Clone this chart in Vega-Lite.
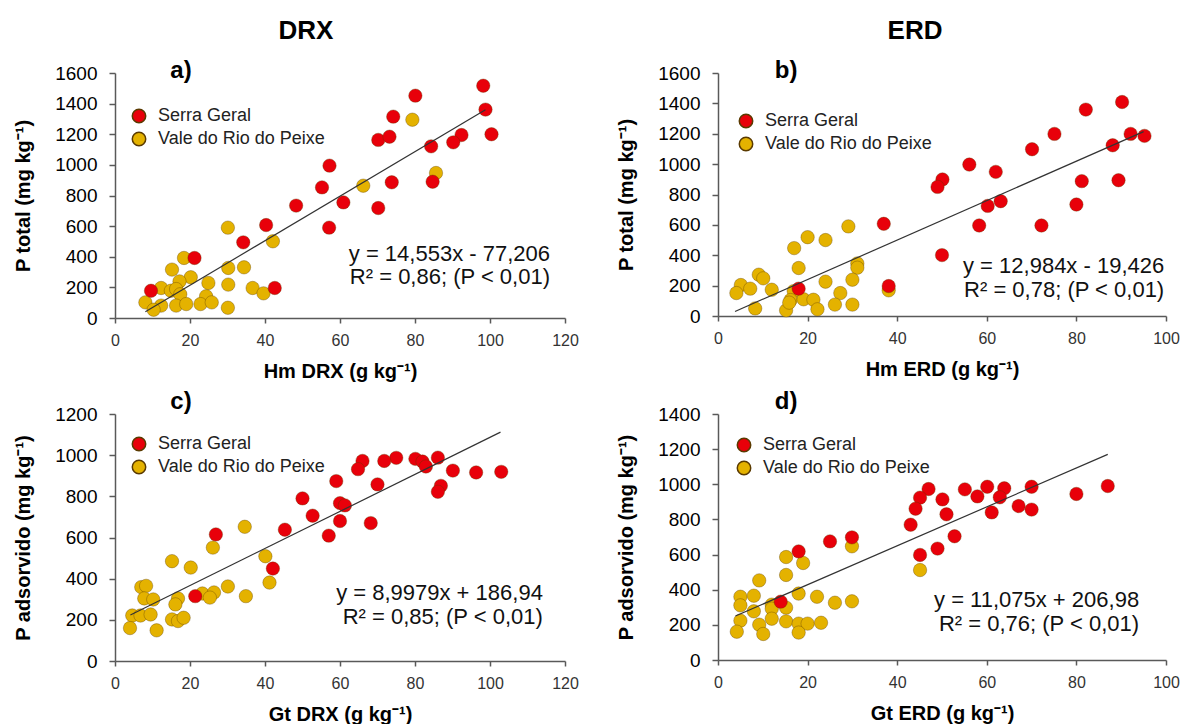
{
  "$schema": "https://vega.github.io/schema/vega-lite/v6.json",
  "background": "white",
  "padding": {"left": 13, "top": 18, "right": 5, "bottom": 0},
  "spacing": 9,
  "resolve": {"scale": {"color": "independent"}, "legend": {"color": "independent"}},
  "config": {
    "font": "Liberation Sans",
    "view": {"stroke": null},
    "axis": {"grid": false, "domainColor": "#595959", "tickColor": "#595959", "domainWidth": 1.5, "tickWidth": 1.5, "tickSize": 6, "titleFontSize": 20, "titleFontWeight": "bold", "titleColor": "#000", "labelFont": "Liberation Sans", "titleFont": "Liberation Sans", "labelFlush": false, "labelOverlap": false, "format": "d"},
    "axisX": {"labelFontSize": 16, "labelColor": "#333", "labelPadding": 9, "titlePadding": 13, "tickSize": 5},
    "axisY": {"labelFontSize": 19, "labelColor": "#000", "labelPadding": 12, "titlePadding": 21},
    "legend": {"labelFontSize": 18, "labelColor": "#222", "symbolSize": 180, "rowPadding": 3, "padding": 0, "labelOffset": 10, "symbolType": "circle", "labelFont": "Liberation Sans", "labelLimit": 400},
    "title": {"fontSize": 26, "fontWeight": "bold", "color": "#000", "anchor": "middle", "frame": "group", "font": "Liberation Sans"},
    "text": {"font": "Liberation Sans", "color": "#111"}
  },
  "datasets": {
    "a": [
      {"x": 79.3, "y": 1295, "s": "Vale do Rio do Peixe"}, {"x": 85.6, "y": 947, "s": "Vale do Rio do Peixe"}, {"x": 66.2, "y": 864, "s": "Vale do Rio do Peixe"}, {"x": 30.1, "y": 590, "s": "Vale do Rio do Peixe"}, {"x": 42.1, "y": 501, "s": "Vale do Rio do Peixe"}, {"x": 18.4, "y": 392, "s": "Vale do Rio do Peixe"}, {"x": 15.2, "y": 316, "s": "Vale do Rio do Peixe"}, {"x": 30.2, "y": 327, "s": "Vale do Rio do Peixe"}, {"x": 34.4, "y": 331, "s": "Vale do Rio do Peixe"}, {"x": 20.2, "y": 266, "s": "Vale do Rio do Peixe"}, {"x": 17.2, "y": 239, "s": "Vale do Rio do Peixe"}, {"x": 24.9, "y": 229, "s": "Vale do Rio do Peixe"}, {"x": 30.2, "y": 218, "s": "Vale do Rio do Peixe"}, {"x": 12.3, "y": 196, "s": "Vale do Rio do Peixe"}, {"x": 14.9, "y": 178, "s": "Vale do Rio do Peixe"}, {"x": 16.3, "y": 189, "s": "Vale do Rio do Peixe"}, {"x": 17.4, "y": 155, "s": "Vale do Rio do Peixe"}, {"x": 24.3, "y": 142, "s": "Vale do Rio do Peixe"}, {"x": 36.7, "y": 196, "s": "Vale do Rio do Peixe"}, {"x": 39.6, "y": 161, "s": "Vale do Rio do Peixe"}, {"x": 8.1, "y": 102, "s": "Vale do Rio do Peixe"}, {"x": 12.3, "y": 81, "s": "Vale do Rio do Peixe"}, {"x": 16.3, "y": 81, "s": "Vale do Rio do Peixe"}, {"x": 19.0, "y": 91, "s": "Vale do Rio do Peixe"}, {"x": 22.8, "y": 91, "s": "Vale do Rio do Peixe"}, {"x": 25.8, "y": 102, "s": "Vale do Rio do Peixe"}, {"x": 10.3, "y": 54, "s": "Vale do Rio do Peixe"}, {"x": 30.1, "y": 67, "s": "Vale do Rio do Peixe"},
      {"x": 98.2, "y": 1517, "s": "Serra Geral"}, {"x": 80.1, "y": 1452, "s": "Serra Geral"}, {"x": 74.2, "y": 1315, "s": "Serra Geral"}, {"x": 98.8, "y": 1361, "s": "Serra Geral"}, {"x": 70.2, "y": 1163, "s": "Serra Geral"}, {"x": 73.2, "y": 1184, "s": "Serra Geral"}, {"x": 92.4, "y": 1195, "s": "Serra Geral"}, {"x": 100.4, "y": 1200, "s": "Serra Geral"}, {"x": 90.2, "y": 1147, "s": "Serra Geral"}, {"x": 84.3, "y": 1121, "s": "Serra Geral"}, {"x": 57.2, "y": 995, "s": "Serra Geral"}, {"x": 55.2, "y": 853, "s": "Serra Geral"}, {"x": 73.8, "y": 886, "s": "Serra Geral"}, {"x": 84.7, "y": 890, "s": "Serra Geral"}, {"x": 60.9, "y": 755, "s": "Serra Geral"}, {"x": 70.2, "y": 718, "s": "Serra Geral"}, {"x": 48.3, "y": 734, "s": "Serra Geral"}, {"x": 57.1, "y": 590, "s": "Serra Geral"}, {"x": 40.3, "y": 607, "s": "Serra Geral"}, {"x": 34.2, "y": 494, "s": "Serra Geral"}, {"x": 21.2, "y": 392, "s": "Serra Geral"}, {"x": 42.6, "y": 196, "s": "Serra Geral"}, {"x": 9.6, "y": 178, "s": "Serra Geral"}
    ],
    "b": [
      {"x": 29.1, "y": 590, "s": "Vale do Rio do Peixe"}, {"x": 20.0, "y": 519, "s": "Vale do Rio do Peixe"}, {"x": 24.0, "y": 500, "s": "Vale do Rio do Peixe"}, {"x": 17.0, "y": 447, "s": "Vale do Rio do Peixe"}, {"x": 18.0, "y": 316, "s": "Vale do Rio do Peixe"}, {"x": 31.1, "y": 346, "s": "Vale do Rio do Peixe"}, {"x": 31.1, "y": 318, "s": "Vale do Rio do Peixe"}, {"x": 30.0, "y": 239, "s": "Vale do Rio do Peixe"}, {"x": 24.0, "y": 226, "s": "Vale do Rio do Peixe"}, {"x": 9.1, "y": 272, "s": "Vale do Rio do Peixe"}, {"x": 10.1, "y": 248, "s": "Vale do Rio do Peixe"}, {"x": 5.1, "y": 204, "s": "Vale do Rio do Peixe"}, {"x": 7.2, "y": 180, "s": "Vale do Rio do Peixe"}, {"x": 12.0, "y": 173, "s": "Vale do Rio do Peixe"}, {"x": 4.1, "y": 151, "s": "Vale do Rio do Peixe"}, {"x": 16.9, "y": 164, "s": "Vale do Rio do Peixe"}, {"x": 27.3, "y": 151, "s": "Vale do Rio do Peixe"}, {"x": 38.1, "y": 169, "s": "Vale do Rio do Peixe"}, {"x": 16.2, "y": 105, "s": "Vale do Rio do Peixe"}, {"x": 19.1, "y": 110, "s": "Vale do Rio do Peixe"}, {"x": 21.3, "y": 107, "s": "Vale do Rio do Peixe"}, {"x": 8.3, "y": 50, "s": "Vale do Rio do Peixe"}, {"x": 15.2, "y": 37, "s": "Vale do Rio do Peixe"}, {"x": 22.2, "y": 44, "s": "Vale do Rio do Peixe"}, {"x": 26.1, "y": 75, "s": "Vale do Rio do Peixe"}, {"x": 30.0, "y": 75, "s": "Vale do Rio do Peixe"}, {"x": 15.9, "y": 88, "s": "Vale do Rio do Peixe"},
      {"x": 90.2, "y": 1409, "s": "Serra Geral"}, {"x": 82.1, "y": 1359, "s": "Serra Geral"}, {"x": 75.1, "y": 1199, "s": "Serra Geral"}, {"x": 92.1, "y": 1199, "s": "Serra Geral"}, {"x": 95.2, "y": 1186, "s": "Serra Geral"}, {"x": 88.1, "y": 1124, "s": "Serra Geral"}, {"x": 70.1, "y": 1098, "s": "Serra Geral"}, {"x": 56.1, "y": 997, "s": "Serra Geral"}, {"x": 62.0, "y": 949, "s": "Serra Geral"}, {"x": 50.1, "y": 899, "s": "Serra Geral"}, {"x": 49.0, "y": 850, "s": "Serra Geral"}, {"x": 81.2, "y": 888, "s": "Serra Geral"}, {"x": 89.4, "y": 894, "s": "Serra Geral"}, {"x": 60.2, "y": 725, "s": "Serra Geral"}, {"x": 63.1, "y": 756, "s": "Serra Geral"}, {"x": 80.0, "y": 734, "s": "Serra Geral"}, {"x": 58.3, "y": 596, "s": "Serra Geral"}, {"x": 72.2, "y": 596, "s": "Serra Geral"}, {"x": 37.0, "y": 607, "s": "Serra Geral"}, {"x": 50.0, "y": 401, "s": "Serra Geral"}, {"x": 38.1, "y": 197, "s": "Serra Geral"}, {"x": 18.0, "y": 180, "s": "Serra Geral"}
    ],
    "c": [
      {"x": 34.6, "y": 652, "s": "Vale do Rio do Peixe"}, {"x": 26.1, "y": 551, "s": "Vale do Rio do Peixe"}, {"x": 40.1, "y": 509, "s": "Vale do Rio do Peixe"}, {"x": 15.2, "y": 485, "s": "Vale do Rio do Peixe"}, {"x": 20.2, "y": 454, "s": "Vale do Rio do Peixe"}, {"x": 41.2, "y": 381, "s": "Vale do Rio do Peixe"}, {"x": 30.1, "y": 362, "s": "Vale do Rio do Peixe"}, {"x": 7.0, "y": 359, "s": "Vale do Rio do Peixe"}, {"x": 8.3, "y": 365, "s": "Vale do Rio do Peixe"}, {"x": 34.9, "y": 315, "s": "Vale do Rio do Peixe"}, {"x": 23.3, "y": 328, "s": "Vale do Rio do Peixe"}, {"x": 26.4, "y": 333, "s": "Vale do Rio do Peixe"}, {"x": 25.3, "y": 308, "s": "Vale do Rio do Peixe"}, {"x": 16.8, "y": 304, "s": "Vale do Rio do Peixe"}, {"x": 16.1, "y": 275, "s": "Vale do Rio do Peixe"}, {"x": 7.8, "y": 304, "s": "Vale do Rio do Peixe"}, {"x": 10.2, "y": 299, "s": "Vale do Rio do Peixe"}, {"x": 4.6, "y": 221, "s": "Vale do Rio do Peixe"}, {"x": 6.8, "y": 221, "s": "Vale do Rio do Peixe"}, {"x": 9.5, "y": 226, "s": "Vale do Rio do Peixe"}, {"x": 15.2, "y": 202, "s": "Vale do Rio do Peixe"}, {"x": 16.8, "y": 194, "s": "Vale do Rio do Peixe"}, {"x": 18.3, "y": 210, "s": "Vale do Rio do Peixe"}, {"x": 4.0, "y": 160, "s": "Vale do Rio do Peixe"}, {"x": 11.1, "y": 149, "s": "Vale do Rio do Peixe"},
      {"x": 86.1, "y": 988, "s": "Serra Geral"}, {"x": 75.0, "y": 987, "s": "Serra Geral"}, {"x": 80.1, "y": 982, "s": "Serra Geral"}, {"x": 66.0, "y": 972, "s": "Serra Geral"}, {"x": 71.8, "y": 972, "s": "Serra Geral"}, {"x": 82.0, "y": 969, "s": "Serra Geral"}, {"x": 82.9, "y": 945, "s": "Serra Geral"}, {"x": 64.8, "y": 932, "s": "Serra Geral"}, {"x": 90.1, "y": 925, "s": "Serra Geral"}, {"x": 96.3, "y": 916, "s": "Serra Geral"}, {"x": 103.0, "y": 919, "s": "Serra Geral"}, {"x": 59.0, "y": 874, "s": "Serra Geral"}, {"x": 70.0, "y": 858, "s": "Serra Geral"}, {"x": 86.9, "y": 851, "s": "Serra Geral"}, {"x": 86.1, "y": 822, "s": "Serra Geral"}, {"x": 50.0, "y": 790, "s": "Serra Geral"}, {"x": 60.0, "y": 767, "s": "Serra Geral"}, {"x": 61.3, "y": 756, "s": "Serra Geral"}, {"x": 52.7, "y": 706, "s": "Serra Geral"}, {"x": 60.0, "y": 680, "s": "Serra Geral"}, {"x": 68.2, "y": 670, "s": "Serra Geral"}, {"x": 45.3, "y": 638, "s": "Serra Geral"}, {"x": 57.0, "y": 609, "s": "Serra Geral"}, {"x": 26.9, "y": 615, "s": "Serra Geral"}, {"x": 42.1, "y": 449, "s": "Serra Geral"}, {"x": 21.4, "y": 315, "s": "Serra Geral"}
    ],
    "d": [
      {"x": 29.9, "y": 647, "s": "Vale do Rio do Peixe"}, {"x": 45.1, "y": 512, "s": "Vale do Rio do Peixe"}, {"x": 15.2, "y": 586, "s": "Vale do Rio do Peixe"}, {"x": 19.0, "y": 552, "s": "Vale do Rio do Peixe"}, {"x": 15.2, "y": 484, "s": "Vale do Rio do Peixe"}, {"x": 9.2, "y": 453, "s": "Vale do Rio do Peixe"}, {"x": 5.0, "y": 360, "s": "Vale do Rio do Peixe"}, {"x": 8.0, "y": 366, "s": "Vale do Rio do Peixe"}, {"x": 18.0, "y": 378, "s": "Vale do Rio do Peixe"}, {"x": 22.1, "y": 360, "s": "Vale do Rio do Peixe"}, {"x": 26.1, "y": 326, "s": "Vale do Rio do Peixe"}, {"x": 29.9, "y": 334, "s": "Vale do Rio do Peixe"}, {"x": 5.0, "y": 311, "s": "Vale do Rio do Peixe"}, {"x": 12.0, "y": 315, "s": "Vale do Rio do Peixe"}, {"x": 15.2, "y": 298, "s": "Vale do Rio do Peixe"}, {"x": 12.0, "y": 292, "s": "Vale do Rio do Peixe"}, {"x": 8.0, "y": 277, "s": "Vale do Rio do Peixe"}, {"x": 5.0, "y": 224, "s": "Vale do Rio do Peixe"}, {"x": 12.0, "y": 235, "s": "Vale do Rio do Peixe"}, {"x": 15.2, "y": 220, "s": "Vale do Rio do Peixe"}, {"x": 9.2, "y": 201, "s": "Vale do Rio do Peixe"}, {"x": 18.0, "y": 207, "s": "Vale do Rio do Peixe"}, {"x": 20.0, "y": 207, "s": "Vale do Rio do Peixe"}, {"x": 23.0, "y": 212, "s": "Vale do Rio do Peixe"}, {"x": 4.2, "y": 161, "s": "Vale do Rio do Peixe"}, {"x": 10.1, "y": 148, "s": "Vale do Rio do Peixe"}, {"x": 18.0, "y": 156, "s": "Vale do Rio do Peixe"},
      {"x": 87.0, "y": 990, "s": "Serra Geral"}, {"x": 47.0, "y": 973, "s": "Serra Geral"}, {"x": 55.1, "y": 971, "s": "Serra Geral"}, {"x": 60.1, "y": 986, "s": "Serra Geral"}, {"x": 63.9, "y": 977, "s": "Serra Geral"}, {"x": 70.0, "y": 986, "s": "Serra Geral"}, {"x": 80.0, "y": 945, "s": "Serra Geral"}, {"x": 45.1, "y": 924, "s": "Serra Geral"}, {"x": 50.1, "y": 914, "s": "Serra Geral"}, {"x": 57.9, "y": 931, "s": "Serra Geral"}, {"x": 62.9, "y": 926, "s": "Serra Geral"}, {"x": 44.1, "y": 861, "s": "Serra Geral"}, {"x": 67.1, "y": 876, "s": "Serra Geral"}, {"x": 70.0, "y": 856, "s": "Serra Geral"}, {"x": 61.1, "y": 840, "s": "Serra Geral"}, {"x": 51.0, "y": 829, "s": "Serra Geral"}, {"x": 43.0, "y": 770, "s": "Serra Geral"}, {"x": 52.8, "y": 704, "s": "Serra Geral"}, {"x": 29.9, "y": 698, "s": "Serra Geral"}, {"x": 25.0, "y": 675, "s": "Serra Geral"}, {"x": 18.0, "y": 618, "s": "Serra Geral"}, {"x": 49.0, "y": 634, "s": "Serra Geral"}, {"x": 45.1, "y": 598, "s": "Serra Geral"}, {"x": 14.0, "y": 332, "s": "Serra Geral"}
    ]
  },
  "vconcat": [
    {
      "hconcat": [
        {
          "width": 450, "height": 245,
          "title": {"text": "DRX", "dx": -34, "offset": 15},
          "encoding": {
            "x": {"field": "x", "type": "quantitative", "scale": {"domain": [0, 120], "nice": false}, "axis": {"values": [0, 20, 40, 60, 80, 100, 120], "title": "Hm DRX (g kg⁻¹)"}},
            "y": {"field": "y", "type": "quantitative", "scale": {"domain": [0, 1600], "nice": false}, "axis": {"values": [0, 200, 400, 600, 800, 1000, 1200, 1400, 1600], "title": "P total (mg kg⁻¹)"}}
          },
          "layer": [
            {"data": {"name": "a"}, "mark": {"type": "point", "filled": true, "size": 180, "opacity": 1, "stroke": "#5a3a00", "strokeOpacity": 0.35, "strokeWidth": 1},
             "encoding": {"color": {"field": "s", "type": "nominal", "scale": {"domain": ["Serra Geral", "Vale do Rio do Peixe"], "range": ["#e8000a", "#e4b200"]}, "legend": {"title": null, "orient": "none", "legendX": 15, "legendY": 34}}}},
            {"data": {"values": [{"x": 8.1, "y": 40.7}, {"x": 98.8, "y": 1360.6}]}, "mark": {"type": "line", "color": "#333", "strokeWidth": 1.2}},
            {"data": {"values": [{"x": 116, "y": 421, "t": "y = 14,553x - 77,206"}, {"x": 116, "y": 265, "t": "R² = 0,86; (P < 0,01)"}]}, "mark": {"type": "text", "align": "right", "baseline": "middle", "fontSize": 22}, "encoding": {"text": {"field": "t"}}},
            {"data": {"values": [{"x": 17.6, "y": 1613, "t": "a)"}]}, "mark": {"type": "text", "align": "center", "baseline": "middle", "fontSize": 24, "fontWeight": "bold", "color": "#000"}, "encoding": {"text": {"field": "t"}}}
          ]
        },
        {
          "width": 448, "height": 243,
          "title": {"text": "ERD", "dx": -27, "offset": 15},
          "encoding": {
            "x": {"field": "x", "type": "quantitative", "scale": {"domain": [0, 100], "nice": false}, "axis": {"values": [0, 20, 40, 60, 80, 100], "title": "Hm ERD (g kg⁻¹)"}},
            "y": {"field": "y", "type": "quantitative", "scale": {"domain": [0, 1600], "nice": false}, "axis": {"values": [0, 200, 400, 600, 800, 1000, 1200, 1400, 1600], "title": "P total (mg kg⁻¹)"}}
          },
          "layer": [
            {"data": {"name": "b"}, "mark": {"type": "point", "filled": true, "size": 180, "opacity": 1, "stroke": "#5a3a00", "strokeOpacity": 0.35, "strokeWidth": 1},
             "encoding": {"color": {"field": "s", "type": "nominal", "scale": {"domain": ["Serra Geral", "Vale do Rio do Peixe"], "range": ["#e8000a", "#e4b200"]}, "legend": {"title": null, "orient": "none", "legendX": 19, "legendY": 39}}}},
            {"data": {"values": [{"x": 3.8, "y": 29.9}, {"x": 95, "y": 1214.1}]}, "mark": {"type": "line", "color": "#333", "strokeWidth": 1.2}},
            {"data": {"values": [{"x": 99.6, "y": 332, "t": "y = 12,984x - 19,426"}, {"x": 99.6, "y": 174, "t": "R² = 0,78; (P < 0,01)"}]}, "mark": {"type": "text", "align": "right", "baseline": "middle", "fontSize": 22}, "encoding": {"text": {"field": "t"}}},
            {"data": {"values": [{"x": 15.2, "y": 1613, "t": "b)"}]}, "mark": {"type": "text", "align": "center", "baseline": "middle", "fontSize": 24, "fontWeight": "bold", "color": "#000"}, "encoding": {"text": {"field": "t"}}}
          ]
        }
      ],
      "spacing": 153,
      "bounds": "flush",
      "resolve": {"scale": {"color": "independent"}, "legend": {"color": "independent"}}
    },
    {
      "hconcat": [
        {
          "width": 450, "height": 247,
          "encoding": {
            "x": {"field": "x", "type": "quantitative", "scale": {"domain": [0, 120], "nice": false}, "axis": {"values": [0, 20, 40, 60, 80, 100, 120], "title": "Gt DRX (g kg⁻¹)"}},
            "y": {"field": "y", "type": "quantitative", "scale": {"domain": [0, 1200], "nice": false}, "axis": {"values": [0, 200, 400, 600, 800, 1000, 1200], "title": "P adsorvido (mg kg⁻¹)"}}
          },
          "layer": [
            {"data": {"name": "c"}, "mark": {"type": "point", "filled": true, "size": 180, "opacity": 1, "stroke": "#5a3a00", "strokeOpacity": 0.35, "strokeWidth": 1},
             "encoding": {"color": {"field": "s", "type": "nominal", "scale": {"domain": ["Serra Geral", "Vale do Rio do Peixe"], "range": ["#e8000a", "#e4b200"]}, "legend": {"title": null, "orient": "none", "legendX": 15, "legendY": 21}}}},
            {"data": {"values": [{"x": 4.1, "y": 223.8}, {"x": 102.8, "y": 1111.9}]}, "mark": {"type": "line", "color": "#333", "strokeWidth": 1.2}},
            {"data": {"values": [{"x": 114.1, "y": 328, "t": "y = 8,9979x + 186,94"}, {"x": 114.1, "y": 212, "t": "R² = 0,85; (P < 0,01)"}]}, "mark": {"type": "text", "align": "right", "baseline": "middle", "fontSize": 22}, "encoding": {"text": {"field": "t"}}},
            {"data": {"values": [{"x": 17.6, "y": 1258, "t": "c)"}]}, "mark": {"type": "text", "align": "center", "baseline": "middle", "fontSize": 24, "fontWeight": "bold", "color": "#000"}, "encoding": {"text": {"field": "t"}}}
          ]
        },
        {
          "width": 448, "height": 246,
          "encoding": {
            "x": {"field": "x", "type": "quantitative", "scale": {"domain": [0, 100], "nice": false}, "axis": {"values": [0, 20, 40, 60, 80, 100], "title": "Gt ERD (g kg⁻¹)"}},
            "y": {"field": "y", "type": "quantitative", "scale": {"domain": [0, 1400], "nice": false}, "axis": {"values": [0, 200, 400, 600, 800, 1000, 1200, 1400], "title": "P adsorvido (mg kg⁻¹)"}}
          },
          "layer": [
            {"data": {"name": "d"}, "mark": {"type": "point", "filled": true, "size": 180, "opacity": 1, "stroke": "#5a3a00", "strokeOpacity": 0.35, "strokeWidth": 1},
             "encoding": {"color": {"field": "s", "type": "nominal", "scale": {"domain": ["Serra Geral", "Vale do Rio do Peixe"], "range": ["#e8000a", "#e4b200"]}, "legend": {"title": null, "orient": "none", "legendX": 17, "legendY": 22}}}},
            {"data": {"values": [{"x": 3.9, "y": 250.2}, {"x": 87, "y": 1170.5}]}, "mark": {"type": "line", "color": "#333", "strokeWidth": 1.2}},
            {"data": {"values": [{"x": 94.0, "y": 341, "t": "y = 11,075x + 206,98"}, {"x": 94.0, "y": 205, "t": "R² = 0,76; (P < 0,01)"}]}, "mark": {"type": "text", "align": "right", "baseline": "middle", "fontSize": 22}, "encoding": {"text": {"field": "t"}}},
            {"data": {"values": [{"x": 15.2, "y": 1468, "t": "d)"}]}, "mark": {"type": "text", "align": "center", "baseline": "middle", "fontSize": 24, "fontWeight": "bold", "color": "#000"}, "encoding": {"text": {"field": "t"}}}
          ]
        }
      ],
      "spacing": 153,
      "bounds": "flush",
      "resolve": {"scale": {"color": "independent"}, "legend": {"color": "independent"}}
    }
  ]
}
